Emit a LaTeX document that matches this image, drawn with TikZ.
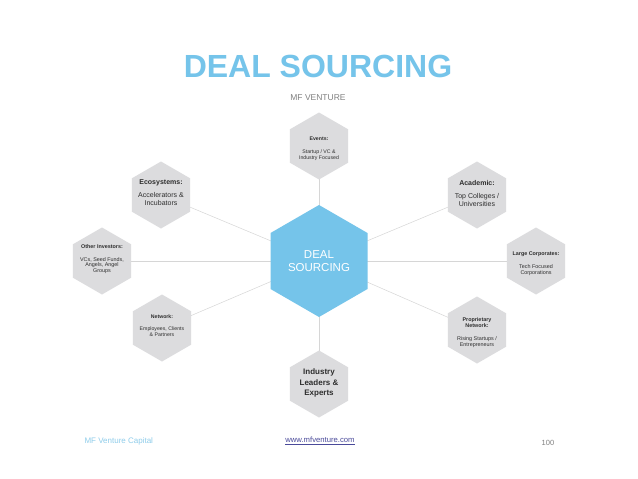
\documentclass[tikz,border=0pt]{standalone}
\usepackage{fontspec}
\setmainfont{Liberation Sans}
\usetikzlibrary{shapes.geometric,backgrounds,positioning}
\definecolor{dealblue}{HTML}{75C4EA}
\definecolor{hexgray}{HTML}{DCDCDE}
\definecolor{linegray}{HTML}{D6D6D6}
\definecolor{txtdark}{HTML}{2E2E2E}
\definecolor{footblue}{HTML}{8FCDEB}
\definecolor{linkblue}{HTML}{4A4A9A}
\newcommand{\fs}[2]{\fontsize{#1}{#2}\selectfont}
\begin{document}
\begin{tikzpicture}[x=1pt, y=-1pt, thin,
    hex node/.style={regular polygon, regular polygon sides=6, shape border rotate=30,
        fill=hexgray, draw=none, inner sep=0pt, minimum size=67pt},
    hub node/.style={hex node, fill=dealblue, minimum size=112pt},
    box text/.style={align=center, text=txtdark, inner sep=0pt},
    link/.style={draw=linegray, line width=0.5pt}]
    \useasboundingbox (0,0) rectangle (638,479);
    % title
    \node[text=dealblue, font=\fs{32}{36}\bfseries] (title) at (318,66) {DEAL SOURCING};
    \node[text=gray, font=\fs{8.5}{10}] (sub) at (318,98) {MF VENTURE};
    % hexagons
    \node[hub node] (hub) at (319,261) {};
    \node[box text, text=white, font=\fs{11.5}{13}] (hubt) at (hub) {DEAL\\SOURCING};
    \node[hex node] (ev) at (319,146) {};
    \node[box text, font=\fs{5.2}{6}] (evt) at ([yshift=-3pt]ev.center) {\textbf{Events:}\\[7pt]Startup / VC \&\\Industry Focused};
    \node[hex node] (eco) at (161,195) {};
    \node[box text, font=\fs{7}{8}] (ecot) at ([yshift=2pt]eco.center) {\textbf{Ecosystems:}\\[5pt]Accelerators \&\\Incubators};
    \node[hex node] (aca) at (477,195) {};
    \node[box text, font=\fs{7}{8}] (acat) at ([yshift=2pt]aca.center) {\textbf{Academic:}\\[5pt]Top Colleges /\\Universities};
    \node[hex node] (oth) at (102,261) {};
    \node[box text, font=\fs{5.4}{5.5}] (otht) at ([yshift=2pt]oth.center) {\textbf{Other Investors:}\\[7pt]VCs, Seed Funds,\\Angels, Angel\\Groups};
    \node[hex node] (lrg) at (536,261) {};
    \node[box text, font=\fs{5.4}{6}] (lrgt) at ([yshift=-3pt]lrg.center) {\textbf{Large Corporates:}\\[7pt]Tech Focused\\Corporations};
    \node[hex node] (net) at (162,328) {};
    \node[box text, font=\fs{5.2}{6}] (nett) at ([yshift=2pt]net.center) {\textbf{Network:}\\[6pt]Employees, Clients\\\& Partners};
    \node[hex node] (pro) at (477,330) {};
    \node[box text, font=\fs{5.4}{6}] (prot) at ([yshift=-3pt]pro.center) {\textbf{Proprietary}\\\textbf{Network:}\\[7pt]Rising Startups /\\Entrepreneurs};
    \node[hex node] (ind) at (319,384) {};
    \node[box text, font=\fs{8}{10.5}\bfseries] (indt) at ([yshift=1pt]ind.center) {Industry\\Leaders \&\\Experts};
    % connectors
    \begin{scope}[on background layer]
        \fill[white] (0,0) rectangle (638,479);
        \foreach \n in {ev,eco,aca,oth,lrg,net,pro,ind}
            \path[link] (hub.center) -- (\n.center);
    \end{scope}
    % footer
    \node[anchor=west, text=footblue, font=\fs{8}{9}] (foot) at (81,441) {MF Venture Capital};
    \node[text=linkblue, font=\fs{7.7}{9}] (web) at (320,441) {\underline{www.mfventure.com}};
    \node[text=gray, font=\fs{7.5}{9}] (page) at (548,443) {100};
\end{tikzpicture}
\end{document}
